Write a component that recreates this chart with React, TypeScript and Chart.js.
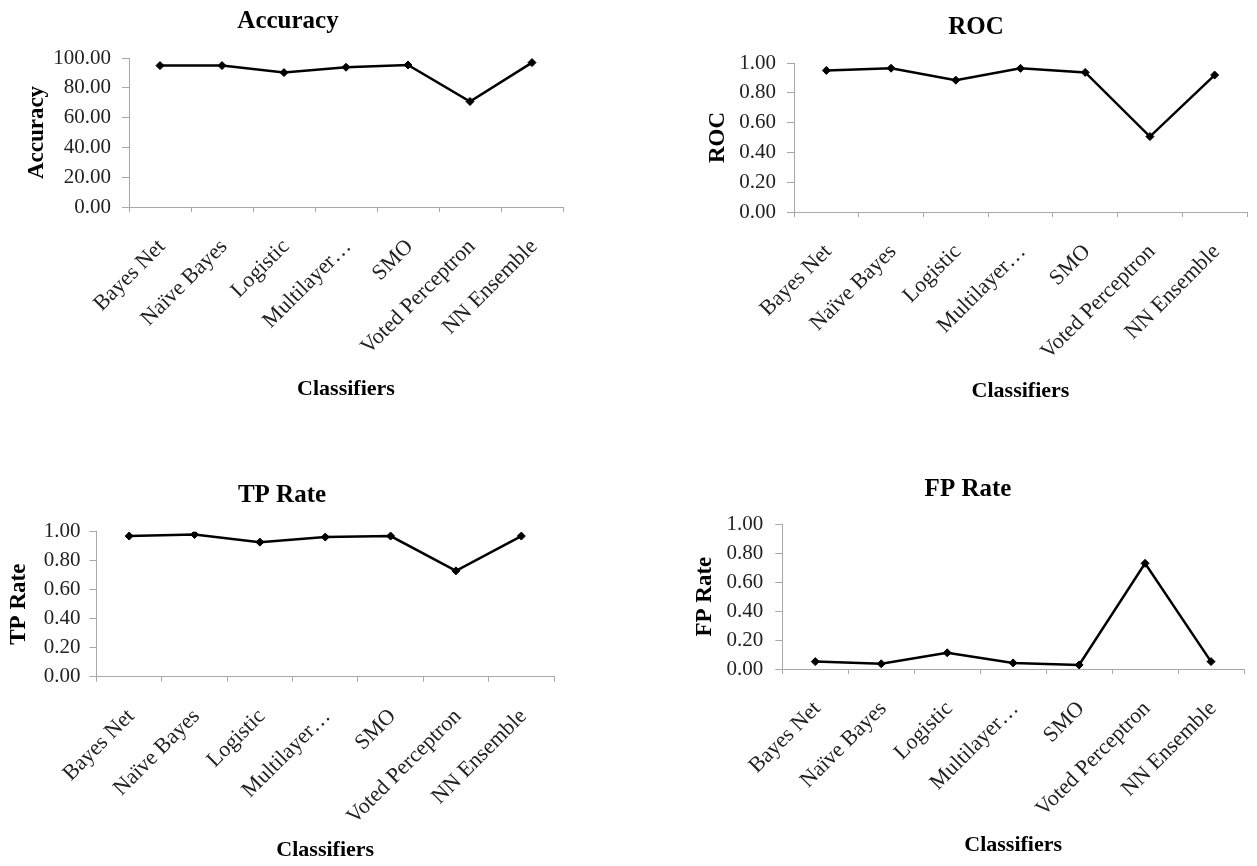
import React, { useEffect, useRef } from "react";
import { Chart, registerables } from "chart.js";

Chart.register(...registerables);

const categories = [
  "Bayes Net",
  "Naïve Bayes",
  "Logistic",
  "Multilayer…",
  "SMO",
  "Voted Perceptron",
  "NN Ensemble",
];
const accuracyValues = [94.9, 94.9, 90.2, 93.8, 95.3, 70.8, 96.9];
const rocValues = [0.95, 0.965, 0.885, 0.964, 0.937, 0.506, 0.919];
const tpRateValues = [0.97, 0.98, 0.928, 0.963, 0.97, 0.73, 0.97];
const fpRateValues = [0.051, 0.036, 0.112, 0.042, 0.028, 0.73, 0.051];
const accuracyRange = [0, 100, 20];
const rateRange = [0, 1, 0.2];
const xAxisTitle = "Classifiers";

const FONT = "'Liberation Serif', 'Times New Roman', serif";
const AXIS_GRAY = "#a8a8a8";

type Panel = {
  title: string;
  yTitle: string;
  values: number[];
  range: number[];
  left: number;
  top: number;
  width: number;
  height: number;
  pad: number;
  yWidth: number;
  xHeight: number;
  titlePadTop: number;
  titlePadBottom: number;
  yTitlePad: number;
  xTitlePad: number;
  yTickPad: number;
};

const panels: Panel[] = [
  {
    title: "Accuracy", yTitle: "Accuracy", values: accuracyValues, range: accuracyRange,
    left: 0, top: 0, width: 576, height: 420, pad: 13, yWidth: 116, xHeight: 213,
    titlePadTop: 9, titlePadBottom: 24, yTitlePad: 12.5, xTitlePad: 19.7, yTickPad: 11,
  },
  {
    title: "ROC", yTitle: "ROC", values: rocValues, range: rateRange,
    left: 700, top: 0, width: 552, height: 420, pad: 5, yWidth: 89, xHeight: 208,
    titlePadTop: 15, titlePadBottom: 23, yTitlePad: 1.5, xTitlePad: 17.7, yTickPad: 11,
  },
  {
    title: "TP Rate", yTitle: "TP Rate", values: tpRateValues, range: rateRange,
    left: 0, top: 440, width: 564, height: 426, pad: 10, yWidth: 86.5, xHeight: 189.3,
    titlePadTop: 42.9, titlePadBottom: 23.8, yTitlePad: -2.5, xTitlePad: 4.7, yTickPad: 9,
  },
  {
    title: "FP Rate", yTitle: "FP Rate", values: fpRateValues, range: rateRange,
    left: 687, top: 440, width: 562, height: 426, pad: 5, yWidth: 90.3, xHeight: 197,
    titlePadTop: 36.9, titlePadBottom: 22.4, yTitlePad: 1.5, xTitlePad: 9.7, yTickPad: 12,
  },
];

function LinePanel({ p }: { p: Panel }) {
  const ref = useRef<HTMLCanvasElement | null>(null);
  useEffect(() => {
    if (!ref.current) return;
    const chart = new Chart(ref.current, {
      type: "line",
      data: {
        labels: categories,
        datasets: [
          {
            data: p.values,
            borderColor: "#000",
            borderWidth: 2.5,
            tension: 0,
            pointStyle: "rectRot",
            pointRadius: 4,
            pointBackgroundColor: "#000",
            pointBorderColor: "#000",
            pointBorderWidth: 1,
            fill: false,
          },
        ],
      },
      options: {
        responsive: false,
        animation: false,
        layout: { padding: { left: p.pad, right: p.pad, top: 0, bottom: 0 } },
        plugins: {
          legend: { display: false },
          tooltip: { enabled: false },
          title: {
            display: true,
            text: p.title,
            color: "#000",
            font: { family: FONT, size: 25, weight: "bold", lineHeight: 1 },
            padding: { top: p.titlePadTop, bottom: p.titlePadBottom },
          },
        },
        scales: {
          x: {
            type: "category",
            offset: true,
            grid: {
              offset: true,
              drawOnChartArea: false,
              drawTicks: true,
              tickLength: 5,
              tickColor: AXIS_GRAY,
              color: AXIS_GRAY,
            },
            border: { display: true, color: AXIS_GRAY, width: 1 },
            ticks: {
              autoSkip: false,
              minRotation: 45,
              maxRotation: 45,
              padding: 22,
              labelOffset: 2,
              color: "#222",
              font: { family: FONT, size: 22 },
            },
            title: {
              display: true,
              text: xAxisTitle,
              color: "#000",
              font: { family: FONT, size: 22, weight: "bold", lineHeight: 1 },
              padding: { top: 0, bottom: p.xTitlePad },
            },
            afterFit: (s: any) => {
              s.height = p.xHeight;
              s.paddingLeft = 0;
              s.paddingRight = 0;
            },
          },
          y: {
            min: p.range[0],
            max: p.range[1],
            grid: {
              drawOnChartArea: false,
              drawTicks: true,
              tickLength: 7,
              tickColor: AXIS_GRAY,
              color: AXIS_GRAY,
            },
            border: { display: true, color: AXIS_GRAY, width: 1 },
            ticks: {
              stepSize: p.range[2],
              padding: p.yTickPad,
              color: "#222",
              font: { family: FONT, size: 21 },
              callback: (v: any) => Number(v).toFixed(2),
            },
            title: {
              display: true,
              text: p.yTitle,
              color: "#000",
              font: { family: FONT, size: 23, weight: "bold", lineHeight: 1 },
              padding: { top: p.yTitlePad, bottom: 0 },
            },
            afterFit: (s: any) => {
              s.width = p.yWidth;
              s.paddingTop = 0;
              s.paddingBottom = 0;
            },
          },
        },
      } as any,
    });
    return () => chart.destroy();
  }, [p]);
  return (
    <canvas
      ref={ref}
      width={p.width}
      height={p.height}
      style={{
        position: "absolute",
        left: p.left,
        top: p.top,
        width: p.width,
        height: p.height,
      }}
    />
  );
}

export default function App() {
  return (
    <div
      style={{
        position: "absolute",
        left: 0,
        top: 0,
        width: 1257,
        height: 866,
        background: "#fff",
        overflow: "hidden",
      }}
    >
      {panels.map((p) => (
        <LinePanel key={p.title} p={p} />
      ))}
    </div>
  );
}
